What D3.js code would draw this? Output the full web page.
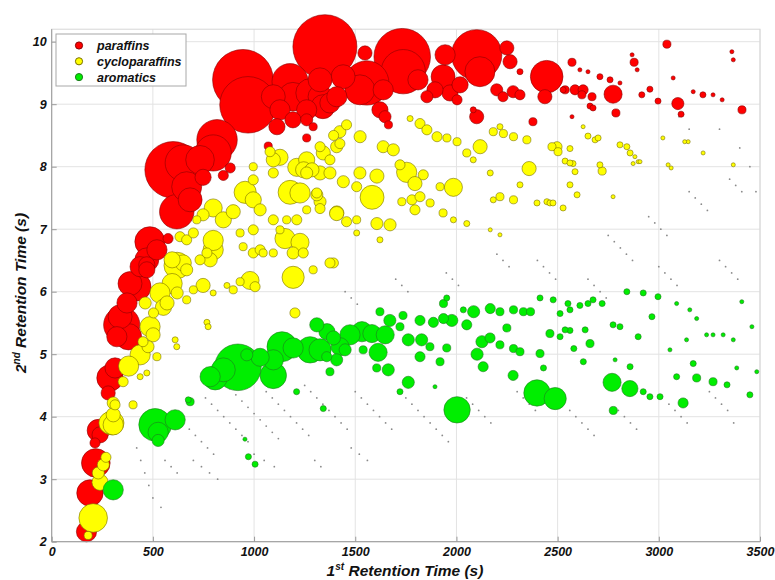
<!DOCTYPE html>
<html>
<head>
<meta charset="utf-8">
<script src="https://cdn.jsdelivr.net/npm/d3@7"></script>
<style>
  body { margin: 0; background: #fff; }
  svg text { font-family: "Liberation Sans", Arial, sans-serif; font-weight: bold; font-style: italic; }
</style>
</head>
<body>
<svg width="775" height="580"></svg>
<script>
// [1st retention (s), 2nd retention (s), peak volume]
var paraffins = [
  [945, 9.39, 90], [970, 8.99, 78], [1178, 9.36, 32], [1192, 9.12, 20], [1326, 9.12, 14],
  [817, 8.43, 40], [798, 8.22, 32], [600, 7.95, 78], [650, 8.06, 32], [667, 7.68, 22],
  [618, 7.28, 29], [485, 6.8, 22], [520, 6.67, 10], [1113, 8.64, 6.4], [1260, 8.75, 3.6],
  [1260, 8.46, 1.6], [1292, 8.64, 1.6], [1070, 8.33, 1.6], [848, 7.86, 2.5], [748, 7.83, 6.4],
  [882, 7.98, 2.5], [575, 6.85, 2.5], [470, 6.43, 6.4], [1095, 9.12, 14], [1128, 8.91, 10],
  [1192, 8.75, 6.4], [1375, 9.02, 10], [684, 7.47, 14], [733, 8.11, 20],
  [470, 6.51, 14], [470, 6.35, 6.4], [420, 6.08, 20], [372, 5.82, 10], [346, 5.47, 32],
  [379, 5.28, 17], [338, 5.6, 14], [387, 6.13, 14], [437, 6.4, 10], [322, 5.28, 10],
  [288, 4.62, 17], [313, 4.78, 10], [279, 4.38, 4.9], [239, 3.71, 6.4], [230, 3.78, 12],
  [214, 3.58, 2.5], [218, 3.26, 20], [189, 2.78, 17], [172, 2.16, 10],
  [1350, 9.92, 100], [1732, 9.76, 78], [1737, 9.52, 48], [2100, 9.79, 62], [2116, 9.52, 22],
  [2446, 9.44, 26], [2437, 9.12, 4.9], [1548, 9.82, 4.9], [1557, 9.34, 48], [1523, 9.23, 22],
  [1277, 9.18, 20], [1340, 8.96, 14], [1409, 9.12, 10], [1944, 9.79, 10], [1934, 9.44, 14],
  [1968, 9.18, 6.4], [2249, 9.9, 4.9], [2265, 9.68, 4.9], [1894, 9.23, 6.4], [1854, 9.12, 3.6],
  [2003, 9.07, 2.5], [2100, 8.8, 4.9], [1647, 8.8, 3.6], [1664, 8.67, 1.6], [2199, 9.23, 3.6],
  [2280, 9.2, 3.6], [2314, 9.15, 2.5], [2230, 9.12, 2.5], [2314, 9.52, 0.9], [2378, 8.72, 1.6],
  [2527, 9.23, 0.9], [2586, 9.23, 2.5], [2018, 9.31, 6.4], [1810, 9.39, 10], [2083, 8.91, 0.9],
  [1440, 9.44, 14], [1638, 9.23, 10], [1260, 8.91, 10], [1622, 8.91, 6.4], [1326, 9.39, 14],
  [2571, 9.67, 1.6], [2774, 9.16, 8], [2788, 8.86, 1.6], [2626, 9.23, 2.5], [2670, 9.12, 1.6],
  [2620, 9.15, 1.6], [2537, 9.23, 1.6], [2878, 9.67, 1.6], [2916, 9.15, 0.9], [2956, 9.24, 0.9],
  [2996, 9.05, 0.9], [3094, 9.01, 3.6], [3040, 9.96, 1.6], [3411, 8.91, 1.6], [3110, 8.84, 0.9],
  [3218, 9.15, 0.9], [3268, 9.15, 0.4], [2709, 9.44, 0.9], [2759, 9.39, 0.9], [2808, 9.34, 0.4],
  [2660, 8.97, 0.9], [2675, 8.94, 0.9], [2571, 8.8, 0.4], [2610, 9.55, 0.4], [2650, 9.52, 0.4],
  [2868, 9.79, 0.4], [2893, 9.55, 0.4], [3071, 9.42, 0.4], [3170, 9.2, 0.4], [3361, 9.84, 0.4],
  [3368, 9.71, 0.4], [3313, 9.07, 0.4]
];

var cycloparaffins = [
  [205, 2.38, 20], [180, 2.1, 1.6], [239, 2.95, 6.4], [230, 3.1, 3.6], [255, 3.23, 3.6],
  [268, 3.35, 2.5], [288, 3.9, 12], [304, 3.87, 10], [304, 4.03, 4.9], [313, 4.19, 2.5],
  [402, 4.19, 1.6], [298, 3.9, 14], [304, 4.22, 3.6],
  [620, 6.42, 17], [650, 6.46, 6.4], [595, 6.13, 10], [535, 5.98, 10], [552, 5.75, 6.4],
  [486, 5.44, 10], [501, 5.31, 4.9], [476, 5.12, 3.6], [437, 4.99, 10], [380, 4.81, 10],
  [748, 6.1, 4.9], [1193, 6.23, 12], [1202, 5.66, 2.5], [980, 6.18, 8], [620, 5.98, 3.6],
  [667, 5.87, 1.6], [897, 6.03, 1.6], [798, 5.98, 0.9], [610, 5.23, 0.9], [618, 5.12, 0.9],
  [570, 5.82, 4.9], [503, 5.66, 2.5], [462, 5.82, 3.6], [595, 6.51, 6.4], [667, 6.35, 3.6],
  [700, 6.03, 1.6], [767, 5.51, 0.9], [773, 5.44, 0.9], [866, 6.1, 0.9], [931, 6.16, 1.6],
  [1005, 6.08, 2.5], [1292, 6.35, 1.6], [1392, 6.46, 2.5], [451, 5.2, 2.5], [520, 4.96, 1.6],
  [470, 4.7, 0.9], [437, 4.64, 0.9], [353, 4.56, 2.5],
  [798, 6.67, 10], [733, 6.51, 2.5], [783, 6.51, 4.9], [996, 6.62, 2.5], [1045, 6.62, 1.6],
  [1095, 6.62, 1.6], [1193, 6.62, 3.6], [1243, 6.62, 2.5], [1375, 6.46, 2.5],
  [1178, 7.59, 14], [956, 7.59, 12], [798, 7.34, 8], [798, 6.82, 10], [848, 7.15, 6.4],
  [897, 7.28, 4.9], [996, 7.47, 6.4], [1030, 7.31, 3.6], [1153, 6.85, 10], [1227, 6.79, 8],
  [1211, 7.99, 8], [1095, 8.11, 4.9], [1128, 8.15, 6.4], [1260, 7.9, 3.6], [1326, 7.9, 4.9],
  [1375, 8.11, 2.5], [1393, 8.5, 2.5], [996, 8.0, 1.6], [1079, 8.24, 2.5], [996, 6.99, 2.5],
  [931, 6.94, 1.6], [748, 7.23, 3.6], [717, 7.15, 1.6], [634, 6.88, 2.5], [667, 6.83, 2.5],
  [1310, 7.58, 2.5], [1326, 7.44, 3.6], [1409, 7.26, 4.9], [1211, 7.15, 2.5], [1095, 7.15, 2.5],
  [1161, 7.15, 1.6], [1128, 6.99, 1.6], [1030, 6.67, 2.5], [946, 6.72, 1.6], [767, 6.62, 2.5],
  [700, 6.94, 2.5], [996, 7.79, 2.5], [1095, 7.9, 2.5], [1342, 8.22, 4.9], [1260, 8.11, 6.4],
  [1408, 8.32, 3.6],
  [1583, 7.51, 14], [1985, 7.67, 8], [1754, 7.91, 10], [1795, 7.73, 4.9], [1607, 7.85, 4.9],
  [1524, 8.48, 3.6], [1457, 8.67, 2.5], [1424, 8.37, 2.5], [1245, 7.95, 6.4], [1286, 7.95, 4.9],
  [1375, 7.9, 3.6], [1441, 7.76, 3.6], [1227, 7.58, 10], [1310, 7.55, 3.6], [1326, 7.33, 2.5],
  [1260, 7.31, 1.6], [1408, 7.25, 4.9], [1457, 7.12, 2.5], [1507, 7.15, 1.6], [1607, 7.09, 3.6],
  [1672, 7.07, 3.6], [1730, 7.44, 1.6], [1780, 7.47, 2.5], [1820, 7.52, 2.5], [1870, 7.42, 1.6],
  [1795, 7.31, 2.5], [2117, 8.32, 4.9], [2359, 7.97, 4.9], [1820, 8.69, 2.5], [1854, 8.59, 2.5],
  [1904, 8.48, 2.5], [1953, 8.46, 1.6], [2003, 8.4, 1.6], [2182, 8.56, 1.6], [2232, 8.53, 1.6],
  [2282, 8.48, 1.6], [2215, 8.64, 0.9], [2348, 8.43, 1.6], [1771, 8.77, 0.9], [2051, 8.22, 1.6],
  [2083, 8.11, 0.9], [2167, 7.9, 0.9], [2215, 7.52, 1.6], [2182, 7.47, 0.9], [2282, 7.47, 1.6],
  [2314, 7.71, 0.9], [2398, 7.42, 0.9], [2447, 7.44, 0.9], [2576, 8.05, 0.9], [1934, 7.26, 1.6],
  [1985, 7.15, 0.9], [2051, 7.09, 0.9], [2167, 6.99, 0.4], [2215, 6.91, 0.4], [1507, 6.94, 0.9],
  [1622, 6.83, 0.9], [1424, 8.56, 3.6], [1326, 8.32, 2.5], [1638, 8.32, 3.6], [1688, 8.27, 3.6],
  [1721, 8.03, 2.5], [1836, 7.87, 2.5], [1919, 7.68, 1.6], [1523, 7.9, 3.6], [1507, 7.68, 2.5],
  [2497, 8.32, 2.5], [2472, 8.32, 1.6], [2502, 8.24, 1.6], [2561, 8.29, 0.9], [2720, 7.93, 1.6],
  [2596, 7.55, 0.9], [2462, 7.42, 0.9], [2477, 7.42, 0.9], [2537, 8.09, 0.9], [2561, 8.06, 0.9],
  [2586, 7.92, 0.9], [2808, 8.35, 0.9], [2842, 8.32, 0.9], [2858, 8.22, 0.9], [2650, 8.49, 0.9],
  [2685, 8.43, 0.9], [2700, 8.46, 0.9], [2882, 8.16, 0.4], [2898, 8.08, 0.4], [3020, 8.46, 0.4],
  [3145, 8.4, 0.4], [2626, 8.64, 0.4], [2709, 8.03, 0.9], [2561, 7.71, 0.9], [3128, 8.4, 0.4],
  [3219, 8.22, 0.4], [3046, 8.03, 0.4], [3061, 7.98, 0.4], [3368, 8.03, 0.4], [2527, 7.34, 0.9],
  [2774, 7.52, 0.4], [2873, 8.05, 0.4], [2907, 8.08, 0.4]
];

var aromatics = [
  [304, 2.83, 10], [511, 3.87, 26], [526, 3.75, 10], [526, 3.62, 3.6], [610, 3.95, 10],
  [684, 4.24, 1.6], [955, 3.64, 0.4], [972, 3.36, 0.9], [1005, 3.24, 0.9], [1342, 4.13, 0.9],
  [920, 4.79, 53], [808, 4.62, 14], [783, 4.64, 10], [848, 4.75, 14], [1095, 4.66, 17],
  [1030, 4.95, 8], [964, 4.99, 3.6], [1095, 4.91, 10], [1138, 5.12, 22], [1193, 5.1, 10],
  [1277, 5.07, 17], [1326, 5.07, 12], [1310, 5.47, 4.9], [1360, 5.36, 6.4], [1392, 5.26, 4.9],
  [1408, 4.91, 3.6], [1375, 4.72, 1.6], [675, 4.27, 0.9], [1210, 4.4, 0.9],
  [2003, 4.11, 17], [2398, 4.38, 17], [2488, 4.29, 12], [1762, 4.55, 3.6], [1613, 5.03, 8],
  [1663, 4.75, 3.6], [1533, 5.36, 10], [1474, 5.31, 10], [1582, 5.33, 8], [1648, 5.31, 8],
  [1425, 5.12, 8], [1450, 5.07, 3.6], [1359, 4.96, 2.5], [1539, 5.07, 1.6], [1606, 4.78, 1.6],
  [1721, 5.44, 1.6], [1762, 5.23, 3.6], [1820, 4.96, 2.5], [1828, 5.23, 3.6], [1869, 5.12, 1.6],
  [1919, 4.88, 1.6], [1952, 5.1, 1.6], [1671, 5.54, 3.6], [1622, 5.68, 1.6], [1736, 5.62, 1.6],
  [1820, 5.54, 2.5], [1886, 5.51, 2.5], [1936, 5.57, 2.5], [1977, 5.54, 3.6], [2051, 5.47, 2.5],
  [2102, 5.0, 3.6], [2132, 4.8, 2.5], [2126, 5.2, 3.6], [2166, 5.26, 2.5], [2215, 5.15, 1.6],
  [2249, 5.42, 1.6], [2282, 5.09, 1.6], [2314, 5.04, 1.6], [2085, 5.68, 3.6], [2167, 5.73, 2.5],
  [2215, 5.68, 1.6], [2282, 5.71, 1.6], [2331, 5.68, 1.6], [2366, 5.68, 1.6], [2413, 5.9, 0.9],
  [2478, 5.87, 0.9], [2551, 5.81, 0.9], [2512, 5.65, 0.9], [2462, 5.33, 1.6], [2512, 5.28, 0.9],
  [2561, 5.38, 0.9], [2580, 5.09, 0.9], [2280, 4.66, 2.5], [2413, 5.01, 1.6], [2430, 4.78, 0.9],
  [1952, 5.9, 0.9], [1936, 5.81, 1.6], [2034, 5.71, 0.9], [1721, 4.4, 0.9], [1894, 4.48, 0.4],
  [2769, 4.55, 8], [2857, 4.45, 6.4], [2775, 4.1, 1.6], [3120, 4.22, 2.5], [3187, 4.62, 1.6],
  [3088, 4.64, 0.9], [3268, 4.56, 1.6], [3337, 4.51, 0.9], [3450, 4.35, 0.9], [2923, 4.4, 0.9],
  [2956, 4.32, 0.9], [3006, 4.32, 0.9], [2627, 4.88, 0.9], [2660, 5.17, 1.6], [2537, 5.39, 0.9],
  [2636, 5.39, 0.9], [2720, 5.81, 0.9], [2675, 5.87, 0.9], [2650, 5.81, 0.9], [2610, 5.78, 0.9],
  [2561, 5.71, 0.9], [2774, 5.47, 0.9], [2808, 5.44, 0.9], [2898, 5.28, 0.9], [2966, 5.6, 0.9],
  [2996, 5.92, 0.9], [2923, 5.98, 0.9], [2842, 6.0, 0.9], [2858, 4.8, 0.9], [2784, 4.91, 0.4],
  [3088, 5.81, 0.4], [3153, 5.71, 0.4], [3187, 5.57, 0.4], [3236, 5.31, 0.4], [3268, 5.31, 0.4],
  [3318, 5.31, 0.4], [3137, 5.23, 0.4], [3055, 5.07, 0.4], [3368, 5.23, 0.4], [3410, 5.84, 0.4],
  [3460, 5.44, 0.4], [3170, 4.85, 0.9], [3385, 4.78, 0.4], [3484, 4.72, 0.4]
];

// trace peaks (too small to show a colour)
var tracePeaks = [
  [620, 4.0], [650, 3.9], [680, 3.8], [710, 3.7], [740, 3.6], [770, 3.5], [800, 3.4],
  [760, 4.3], [790, 4.2], [820, 4.1], [850, 4.0], [880, 3.9], [910, 3.8], [940, 3.7], [970, 3.6],
  [880, 4.45], [910, 4.35], [940, 4.25], [970, 4.15], [1000, 4.05], [1030, 3.95], [1060, 3.85], [1090, 3.75], [1120, 3.65],
  [1060, 4.4], [1090, 4.3], [1120, 4.2], [1150, 4.1], [1180, 4.0], [1210, 3.9], [1240, 3.8], [1270, 3.7],
  [1250, 4.5], [1280, 4.4], [1310, 4.3], [1340, 4.2], [1370, 4.1], [1400, 4.0], [1430, 3.9], [1460, 3.8],
  [1500, 4.4], [1530, 4.3], [1560, 4.2], [1590, 4.1], [1620, 4.0], [1650, 3.9], [1680, 3.8],
  [1750, 4.3], [1780, 4.2], [1810, 4.1], [1840, 4.0], [1870, 3.9], [1900, 3.8], [1930, 3.7], [1960, 3.6],
  [2050, 4.3], [2080, 4.2], [2110, 4.1], [2140, 4.0], [2170, 3.9],
  [2300, 4.4], [2330, 4.3], [2360, 4.2], [2390, 4.1],
  [2560, 4.1], [2590, 4.0], [2620, 3.9], [2650, 3.8], [2680, 3.7],
  [2800, 4.1], [2830, 4.0], [2860, 3.9], [2890, 3.8],
  [3050, 4.2], [3080, 4.1], [3110, 4.0], [3140, 3.9],
  [3250, 4.4], [3280, 4.3], [3310, 4.2], [3340, 4.1], [3370, 3.9],
  [420, 3.5], [440, 3.3], [460, 3.1], [480, 2.9], [500, 2.7], [540, 2.55],
  [560, 3.3], [590, 3.2], [620, 3.1], [700, 3.3], [740, 3.2], [780, 3.1], [820, 3.0],
  [1000, 3.4], [1050, 3.3], [1100, 3.2], [1300, 3.3], [1330, 3.2], [1480, 3.5], [1520, 3.4], [1560, 3.3],
  [2750, 6.9], [2780, 6.8], [2810, 6.7], [2840, 6.6], [2870, 6.5],
  [2950, 7.2], [2980, 7.1], [3010, 7.0], [3040, 6.9],
  [3150, 7.6], [3180, 7.5], [3210, 7.4], [3240, 7.3],
  [3350, 7.8], [3380, 7.7], [3410, 7.6],
  [2650, 6.2], [2680, 6.1], [2710, 6.0], [2740, 5.9],
  [3000, 6.4], [3030, 6.3], [3060, 6.2], [3090, 6.1],
  [3300, 6.5], [3330, 6.4], [3360, 6.3], [3390, 6.2],
  [3100, 8.8], [3150, 8.6], [3300, 8.6], [3400, 8.3], [3450, 8.0], [3480, 7.6],
  [2400, 6.5], [2430, 6.4], [2460, 6.3], [2490, 6.2], [2200, 6.6], [2230, 6.5], [2260, 6.4],
  [1450, 6.0], [1480, 5.9], [1510, 5.8], [1700, 6.2], [1730, 6.1], [1760, 6.0],
  [1950, 6.3], [1980, 6.2], [2010, 6.1]
];

var xTicks = [0, 500, 1000, 1500, 2000, 2500, 3000, 3500];
var yTicks = [2, 3, 4, 5, 6, 7, 8, 9, 10];
var classNames = ["paraffins", "cycloparaffins", "aromatics"];
var classFill = ["#ff0000", "#ffff00", "#00ee00"];
var classEdge = ["#8a0000", "#7a7000", "#1f7a1f"];

var svg = d3.select("svg");
var x = d3.scaleLinear().domain([0, 3500]).range([51.7, 760]);
var y = d3.scaleLinear().domain([2, 10.2]).range([541.7, 29.2]);
var r = d3.scaleSqrt().domain([0, 100]).range([0, 32]);

// grid
svg.append("g").selectAll("line").data(xTicks).join("line")
    .attr("x1", d => x(d)).attr("x2", d => x(d))
    .attr("y1", y(2)).attr("y2", y(10.2))
    .attr("stroke", "#e3e3e3");
svg.append("g").selectAll("line").data(yTicks).join("line")
    .attr("x1", x(0)).attr("x2", x(3500))
    .attr("y1", d => y(d)).attr("y2", d => y(d))
    .attr("stroke", "#e3e3e3");

// frame
svg.append("rect")
    .attr("x", x(0)).attr("y", y(10.2))
    .attr("width", x(3500) - x(0)).attr("height", y(2) - y(10.2))
    .attr("fill", "none").attr("stroke", "#d6d6d6");

// trace peaks
svg.append("g").selectAll("circle").data(tracePeaks).join("circle")
    .attr("cx", d => x(d[0])).attr("cy", d => y(d[1]))
    .attr("r", 0.9).attr("fill", "#8a8a8a");

[paraffins, cycloparaffins, aromatics].forEach(function(series, i) {
  var sorted = series.slice().sort((a, b) => b[2] - a[2]);
  svg.append("g").selectAll("circle").data(sorted).join("circle")
      .attr("cx", d => x(d[0])).attr("cy", d => y(d[1]))
      .attr("r", d => Math.max(1.2, r(d[2])))
      .attr("fill", classFill[i])
      .attr("stroke", classEdge[i])
      .attr("stroke-width", 0.6);
});

// axes
var xAxis = svg.append("g").attr("transform", "translate(0," + y(2) + ")")
    .call(d3.axisBottom(x).tickValues(xTicks).tickFormat(d3.format("d")).tickSize(-5).tickPadding(5));
var yAxis = svg.append("g").attr("transform", "translate(" + x(0) + ",0)")
    .call(d3.axisLeft(y).tickValues(yTicks).tickFormat(d3.format("d")).tickSize(-5).tickPadding(5));
[xAxis, yAxis].forEach(function(a) {
  a.select(".domain").attr("stroke", "#9a9a9a");
  a.selectAll(".tick line").attr("stroke", "#9a9a9a");
  a.selectAll("text").attr("font-size", 12.5).attr("fill", "#111")
      .style("font-family", "Liberation Sans, Arial, sans-serif")
      .style("font-weight", "bold").style("font-style", "italic");
});
yAxis.select(".domain").attr("d", "M0," + y(2) + "V" + y(10.2));
xAxis.select(".domain").attr("d", "M" + x(0) + ",0H" + x(3500));

// axis titles
var xt = svg.append("text").attr("x", 405).attr("y", 576)
    .attr("text-anchor", "middle").attr("font-size", 15.5).attr("fill", "#111");
xt.append("tspan").text("1");
xt.append("tspan").text("st").attr("font-size", 10).attr("dy", -6);
xt.append("tspan").text(" Retention Time (s)").attr("dy", 6);

var yt = svg.append("text").attr("transform", "translate(26,293) rotate(-90)")
    .attr("text-anchor", "middle").attr("font-size", 15.5).attr("fill", "#111");
yt.append("tspan").text("2");
yt.append("tspan").text("nd").attr("font-size", 10).attr("dy", -6);
yt.append("tspan").text(" Retention Time (s)").attr("dy", 6);

// legend
var lg = svg.append("g");
lg.append("rect").attr("x", 56).attr("y", 34).attr("width", 130).attr("height", 52)
    .attr("fill", "#fff").attr("stroke", "#a8a8a8");
var items = lg.selectAll("g.item").data(classNames).join("g")
    .attr("class", "item")
    .attr("transform", (d, i) => "translate(0," + (45.5 + i * 15.8) + ")");
items.append("circle").attr("cx", 79).attr("r", 3.6)
    .attr("fill", (d, i) => classFill[i]).attr("stroke", (d, i) => classEdge[i]);
items.append("text").attr("x", 97).attr("y", 4.5).attr("font-size", 12.5).attr("fill", "#111")
    .text(d => d);
</script>
</body>
</html>
